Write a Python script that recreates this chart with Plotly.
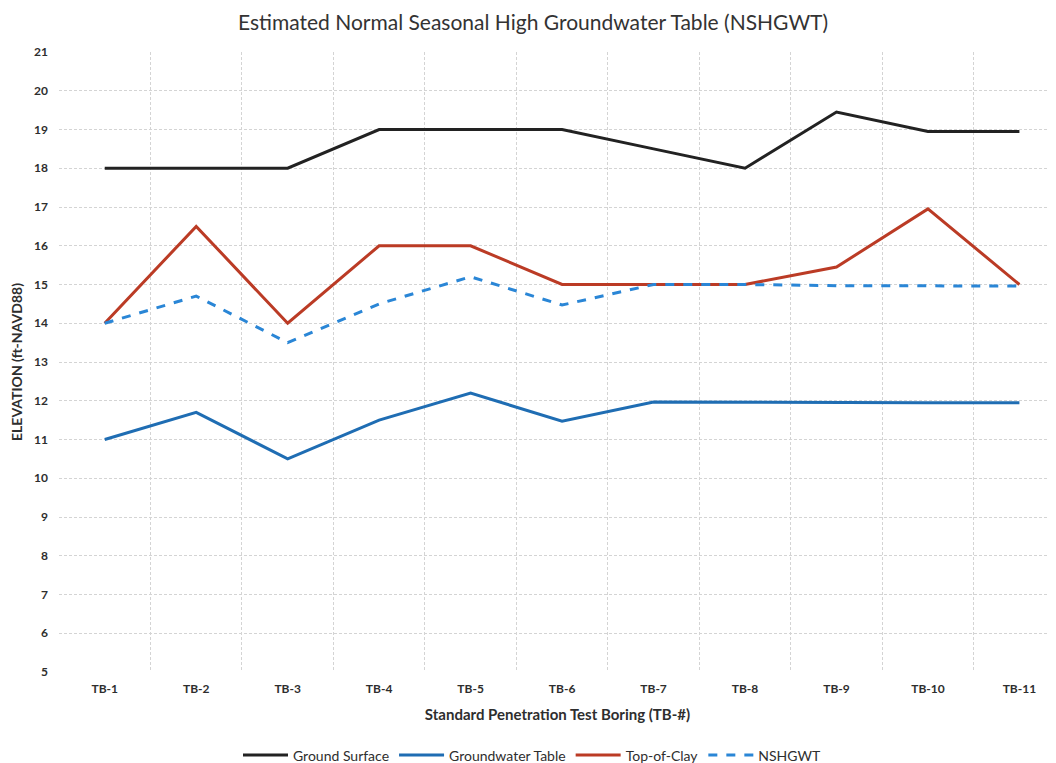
import plotly.graph_objects as go

borings = ["TB-1", "TB-2", "TB-3", "TB-4", "TB-5", "TB-6", "TB-7", "TB-8", "TB-9", "TB-10", "TB-11"]
ground_surface = [18, 18, 18, 19, 19, 19, 18.5, 18, 19.45, 18.95, 18.95]
groundwater_table = [11, 11.7, 10.5, 11.5, 12.2, 11.47, 11.97, 11.96, 11.95, 11.95, 11.95]
top_of_clay = [14, 16.5, 14, 16, 16, 15, 15, 15, 15.45, 16.95, 15]
nshgwt = [14, 14.7, 13.5, 14.5, 15.2, 14.47, 15, 15, 14.97, 14.96, 14.96]

FONT = "Lato, Open Sans, sans-serif"
TXT = "#2e2e2e"

fig = go.Figure()
fig.add_trace(go.Scatter(x=borings, y=ground_surface, mode="lines", name="Ground Surface",
                         line=dict(color="#222222", width=3)))
fig.add_trace(go.Scatter(x=borings, y=groundwater_table, mode="lines", name="Groundwater Table",
                         line=dict(color="#1f6db3", width=3)))
fig.add_trace(go.Scatter(x=borings, y=top_of_clay, mode="lines", name="Top-of-Clay",
                         line=dict(color="#bb3b25", width=3)))
fig.add_trace(go.Scatter(x=borings, y=nshgwt, mode="lines", name="NSHGWT",
                         line=dict(color="#2a86d6", width=3, dash="dash")))

fig.update_layout(
    width=1048, height=755,
    margin=dict(l=51, r=0, t=44, b=91),
    paper_bgcolor="white", plot_bgcolor="white",
    title=dict(text="Estimated Normal Seasonal High Groundwater Table (NSHGWT)",
               x=0.501, xanchor="center", y=0.981, yanchor="middle",
               font=dict(family=FONT, size=21, color="#333333")),
    font=dict(family=FONT, color=TXT),
    showlegend=True,
    legend=dict(orientation="h", x=0.5, xanchor="center", xref="container",
                y=0.01, yanchor="middle", yref="container",
                font=dict(family=FONT, size=14, color=TXT), itemwidth=45,
                traceorder="normal"),
    xaxis=dict(
        type="category", range=[-0.5, 10.4], tickson="boundaries",
        showgrid=True, gridcolor="#d4d4d4", griddash="3px,2px", gridwidth=1,
        ticks="", showline=False, zeroline=False,
        ticklabelstandoff=8,
        tickfont=dict(family=FONT, size=12, color=TXT, weight="bold"),
        title=dict(text="Standard Penetration Test Boring (TB-#)", standoff=14,
                   font=dict(family=FONT, size=15, color=TXT, weight="bold")),
    ),
    yaxis=dict(
        range=[5, 21], dtick=1, tick0=5,
        showgrid=True, gridcolor="#d4d4d4", griddash="3px,2px", gridwidth=1,
        ticks="", showline=False, zeroline=False,
        tickfont=dict(family=FONT, size=12, color=TXT, weight="bold"),
        ticklabelstandoff=10,
        title=dict(text="ELEVATION (ft-NAVD88)", standoff=11,
                   font=dict(family=FONT, size=14, color=TXT, weight="bold")),
    ),
)

fig.write_html("out.html")
